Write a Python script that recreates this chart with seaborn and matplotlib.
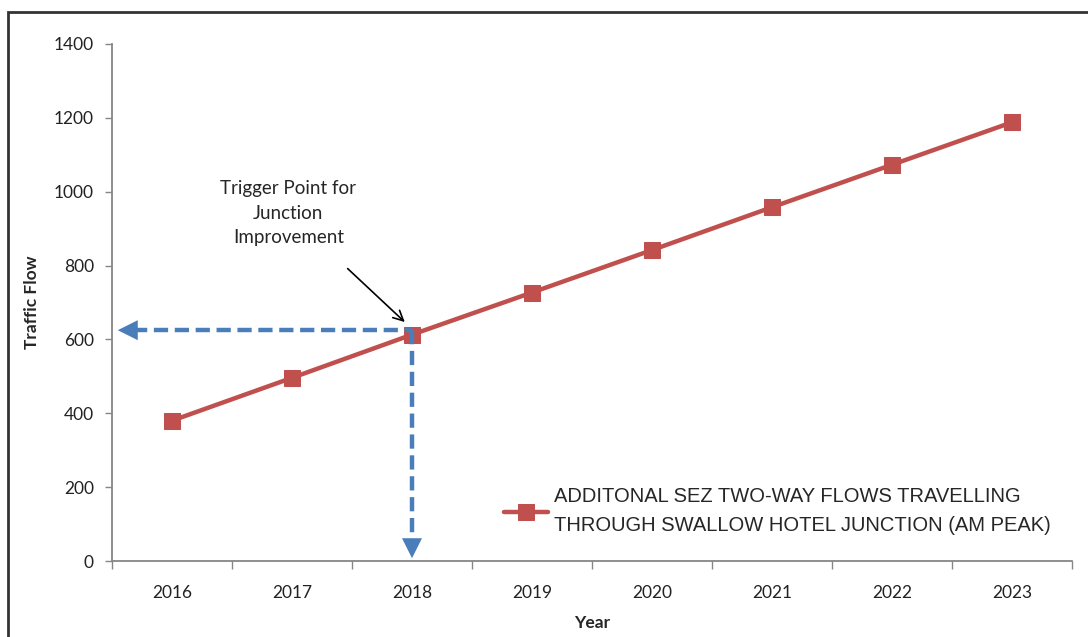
import matplotlib
matplotlib.use("Agg")
import matplotlib.pyplot as plt
import matplotlib.patches as mpatches
import seaborn as sns
import pandas as pd

# data
years = [2016, 2017, 2018, 2019, 2020, 2021, 2022, 2023]
flows = [380, 496, 613, 727, 842, 958, 1073, 1188]
series_name = "ADDITONAL SEZ TWO-WAY FLOWS TRAVELLING\nTHROUGH SWALLOW HOTEL JUNCTION (AM PEAK)"
trigger_year = 2018
trigger_flow = 625
y_ticks = [0, 200, 400, 600, 800, 1000, 1200, 1400]

red = "#C0504D"
blue = "#4A7EBB"
axis_grey = "#868686"

sns.set_theme(style="white")
plt.rcParams["font.family"] = ["Lato", "DejaVu Sans"]

df = pd.DataFrame({"Year": years, "Traffic Flow": flows})

fig = plt.figure(figsize=(10.88, 6.37), dpi=100)
ax = fig.add_axes([112 / 1088, 1 - 561 / 637, 960 / 1088, 517 / 637])

sns.lineplot(data=df, x="Year", y="Traffic Flow", ax=ax, color=red, lw=3.2,
             marker="s", markersize=11, markeredgecolor=red, label=series_name)

ax.set_xlim(years[0] - 0.5, years[-1] + 0.5)
ax.set_ylim(0, 1400)
ax.set_yticks(y_ticks)
ax.set_xticks(years)
ax.set_xticks([y - 0.5 for y in years] + [years[-1] + 0.5], minor=True)

for s in ["top", "right"]:
    ax.spines[s].set_visible(False)
for s in ["left", "bottom"]:
    ax.spines[s].set_color(axis_grey)
    ax.spines[s].set_linewidth(1.3)

ax.tick_params(axis="y", which="major", length=5, width=1, color=axis_grey,
               direction="out", left=True, labelsize=12.5, pad=8)
ax.tick_params(axis="y", labelcolor="#222222")
ax.tick_params(axis="x", which="major", length=0, labelsize=12.5, pad=17, labelcolor="#222222")
ax.tick_params(axis="x", which="minor", length=6, width=1, color=axis_grey,
               direction="out", bottom=True)

ax.set_xlabel("Year", fontsize=12.5, fontweight="bold", labelpad=10)
ax.set_ylabel("Traffic Flow", fontsize=12.5, fontweight="bold", labelpad=10)

# trigger point dashed guide lines
x_left = years[0] - 0.5 + 3 / 120
ax.plot([x_left + 0.15, trigger_year], [trigger_flow, trigger_flow],
        ls=(0, (3.2, 1.5)), color=blue, lw=3.2, clip_on=False, zorder=4)
ax.plot([trigger_year, trigger_year], [trigger_flow, 50],
        ls=(0, (3.2, 1.5)), color=blue, lw=3.2, clip_on=False, zorder=4)
ax.annotate("", xy=(x_left, trigger_flow), xytext=(x_left + 0.25, trigger_flow),
            arrowprops=dict(arrowstyle="-|>", mutation_scale=36, color=blue, lw=0),
            annotation_clip=False, zorder=5)
ax.annotate("", xy=(trigger_year, 0), xytext=(trigger_year, 80),
            arrowprops=dict(arrowstyle="-|>", mutation_scale=36, color=blue, lw=0),
            annotation_clip=False, zorder=5)

ax.annotate("Trigger Point for\nJunction\nImprovement",
            xy=(2017.94, 647), xytext=(2016.97, 942),
            ha="center", va="center", fontsize=13.5, linespacing=1.55,
            arrowprops=dict(arrowstyle="->", color="black", lw=1.2,
                            shrinkA=20, shrinkB=0, mutation_scale=18))

leg = ax.legend(loc="upper left", bbox_to_anchor=(0.4, 0.158), frameon=False,
                handlelength=2.2, handletextpad=0.3, borderaxespad=0,
                prop={"family": ["Liberation Sans Narrow", "Liberation Sans"], "size": 14.5})
for t in leg.get_texts():
    t.set_linespacing(1.65)

# outer chart border (only top and left visible in the crop)
fig.patches.append(mpatches.Rectangle((7.5 / 1088, -0.05), 1.2, 1 - 12 / 637 + 0.05,
                                      transform=fig.transFigure, fill=False,
                                      edgecolor="#333333", lw=2))

fig.savefig("out.png", dpi=100)
